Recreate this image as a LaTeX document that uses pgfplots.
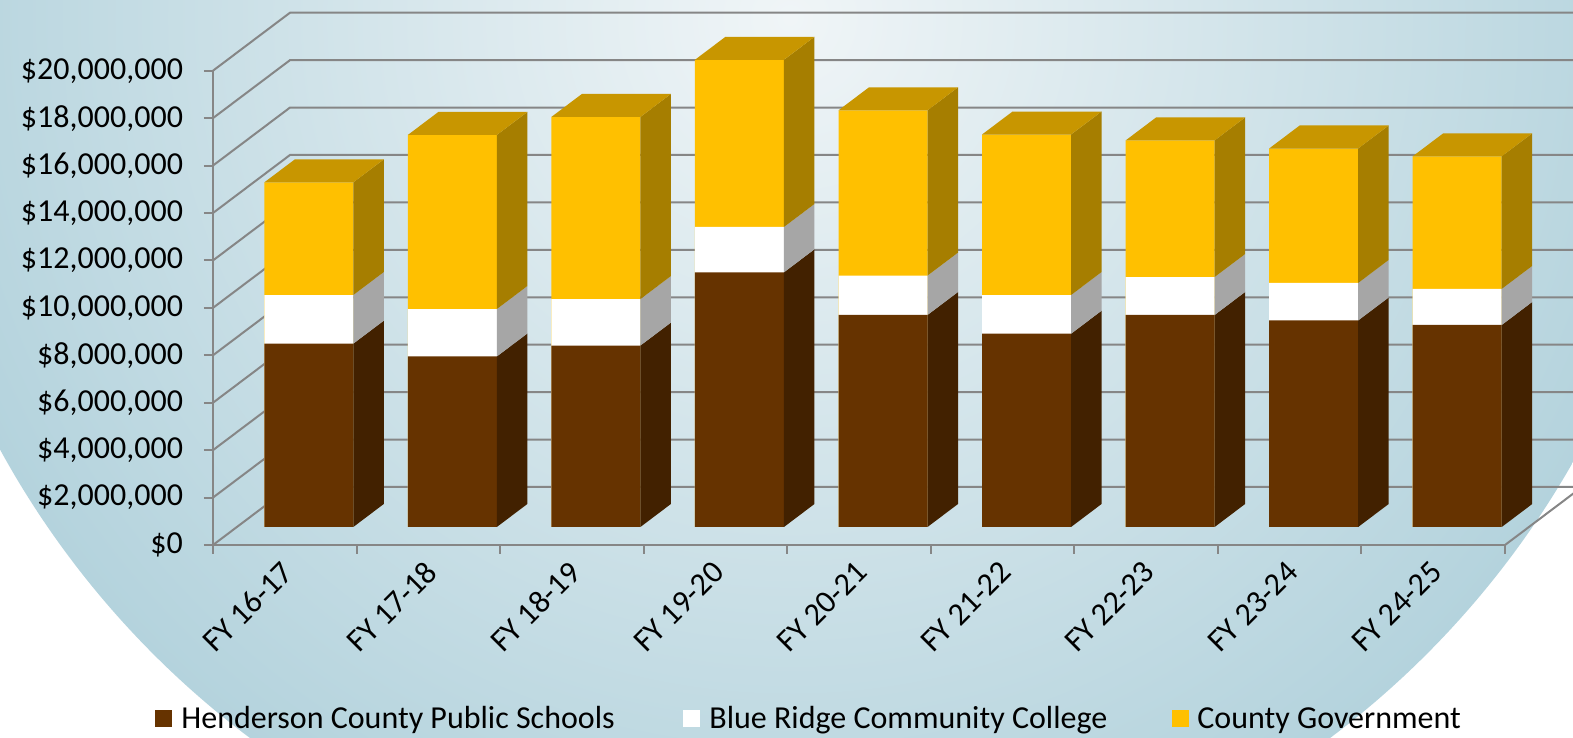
\documentclass[border=0pt]{standalone}
\usepackage{pgfplots}
\pgfplotsset{compat=1.18}
\usepackage{pgfplotstable}
\usepackage{fontspec}
\setmainfont{Carlito}

\definecolor{brF}{RGB}{102,51,0}
\definecolor{brS}{RGB}{66,33,0}
\definecolor{whF}{RGB}{255,255,255}
\definecolor{whS}{RGB}{166,166,166}
\definecolor{yeF}{RGB}{255,192,0}
\definecolor{yeS}{RGB}{166,126,0}
\definecolor{yeT}{RGB}{200,150,0}
\definecolor{gridc}{RGB}{134,134,134}
\definecolor{bgin}{RGB}{240,245,247}
\definecolor{bgout}{RGB}{180,211,221}

\newcommand\fs{\fontsize{16}{19}\selectfont}

% segment heights in millions of dollars
\pgfplotstableread{
x    hcps  brcc  gov
0.5  7.73  2.05  4.75
1.5  7.19  2.00  7.34
2.5  7.65  1.96  7.68
3.5 10.74  1.91  7.05
4.5  8.94  1.66  6.97
5.5  8.15  1.63  6.77
6.5  8.94  1.60  5.76
7.5  8.71  1.58  5.67
8.5  8.52  1.52  5.59
}\budget

% side face: colour, front x, back x, bottom front y, bottom back y, top front y, top back y
\newcommand\face[7]{\addplot[fill=#1, draw=none, mark=none, forget plot] coordinates {(#2,#4) (#3,#5) (#3,#7) (#2,#6)};}
% top face: front-left x, front-right x, back-right x, back-left x, front y, back y
\newcommand\topface[6]{\addplot[fill=yeT, draw=none, mark=none, forget plot] coordinates {(#1,#5) (#2,#5) (#3,#6) (#4,#6)};}

\pgfplotsset{
  front face/.style={
    ybar, bar width=44.5pt, bar shift=12pt, fill=#1, draw=none,
  },
}

\begin{document}
\begin{tikzpicture}
\useasboundingbox (0pt,0pt) rectangle (786.5pt,369pt);
\clip (0pt,0pt) rectangle (786.5pt,369pt);
\shade[inner color=bgin, outer color=bgout] (395pt,360pt) circle (450pt);
\begin{axis}[
  at={(106.5pt,96.5pt)}, anchor=south west,
  scale only axis, width=646pt, height=237.15pt,
  xmin=0, xmax=9, ymin=-0.759, ymax=19.241,
  clip=false,
  axis x line*=bottom, axis y line*=left,
  axis line style={gridc, line width=1pt},
  tick style={gridc, line width=1pt},
  tick align=outside, major tick length=4.5pt,
  xtick={0,1,...,9}, x tick label as interval,
  xticklabels={FY 16-17,FY 17-18,FY 18-19,FY 19-20,FY 20-21,FY 21-22,FY 22-23,FY 23-24,FY 24-25},
  ytick={-0.759,1.241,3.241,5.241,7.241,9.241,11.241,13.241,15.241,17.241,19.241},
  yticklabels={{\$0},{\$2,000,000},{\$4,000,000},{\$6,000,000},{\$8,000,000},{\$10,000,000},{\$12,000,000},{\$14,000,000},{\$16,000,000},{\$18,000,000},{\$20,000,000}},
  tick label style={font=\fs, text=black},
  xticklabel style={xshift=4pt, yshift=-4pt, rotate=45, anchor=east},
  yticklabel style={xshift=-7pt, anchor=east},
]
\draw[gridc, line width=1pt] (axis cs:0,-0.759) -- (axis cs:0.5364,1.6867) -- (axis cs:9.7,1.6867);
\draw[gridc, line width=1pt] (axis cs:0,1.241) -- (axis cs:0.5364,3.6867) -- (axis cs:9.7,3.6867);
\draw[gridc, line width=1pt] (axis cs:0,3.241) -- (axis cs:0.5364,5.6867) -- (axis cs:9.7,5.6867);
\draw[gridc, line width=1pt] (axis cs:0,5.241) -- (axis cs:0.5364,7.6867) -- (axis cs:9.7,7.6867);
\draw[gridc, line width=1pt] (axis cs:0,7.241) -- (axis cs:0.5364,9.6867) -- (axis cs:9.7,9.6867);
\draw[gridc, line width=1pt] (axis cs:0,9.241) -- (axis cs:0.5364,11.6867) -- (axis cs:9.7,11.6867);
\draw[gridc, line width=1pt] (axis cs:0,11.241) -- (axis cs:0.5364,13.6867) -- (axis cs:9.7,13.6867);
\draw[gridc, line width=1pt] (axis cs:0,13.241) -- (axis cs:0.5364,15.6867) -- (axis cs:9.7,15.6867);
\draw[gridc, line width=1pt] (axis cs:0,15.241) -- (axis cs:0.5364,17.6867) -- (axis cs:9.7,17.6867);
\draw[gridc, line width=1pt] (axis cs:0,17.241) -- (axis cs:0.5364,19.6867) -- (axis cs:9.7,19.6867);
\draw[gridc, line width=1pt] (axis cs:0,19.241) -- (axis cs:0.5364,21.6867) -- (axis cs:9.7,21.6867);
\draw[gridc, line width=1pt] (axis cs:9,-0.759) -- (axis cs:9.5364,1.6867);

% front faces (stacked totals drawn back to front)
\addplot[front face=yeF] table[x=x, y expr=\thisrow{hcps}+\thisrow{brcc}+\thisrow{gov}] {\budget};
\addplot[front face=whF] table[x=x, y expr=\thisrow{hcps}+\thisrow{brcc}] {\budget};
\addplot[front face=brF] table[x=x, y=hcps] {\budget};

% side and top faces
\face{brS}{0.9772}{1.1896}{0}{0.97}{7.73}{8.70}
\face{whS}{0.9772}{1.1896}{7.73}{8.70}{9.78}{10.75}
\face{yeS}{0.9772}{1.1896}{9.78}{10.75}{14.53}{15.50}
\topface{0.3572}{0.9772}{1.1896}{0.5697}{14.53}{15.50}

\face{brS}{1.9772}{2.1896}{0}{0.97}{7.19}{8.16}
\face{whS}{1.9772}{2.1896}{7.19}{8.16}{9.19}{10.16}
\face{yeS}{1.9772}{2.1896}{9.19}{10.16}{16.53}{17.50}
\topface{1.3572}{1.9772}{2.1896}{1.5697}{16.53}{17.50}

\face{brS}{2.9772}{3.1896}{0}{0.97}{7.65}{8.62}
\face{whS}{2.9772}{3.1896}{7.65}{8.62}{9.61}{10.58}
\face{yeS}{2.9772}{3.1896}{9.61}{10.58}{17.29}{18.26}
\topface{2.3572}{2.9772}{3.1896}{2.5697}{17.29}{18.26}

\face{brS}{3.9772}{4.1896}{0}{0.97}{10.74}{11.71}
\face{whS}{3.9772}{4.1896}{10.74}{11.71}{12.65}{13.62}
\face{yeS}{3.9772}{4.1896}{12.65}{13.62}{19.70}{20.67}
\topface{3.3572}{3.9772}{4.1896}{3.5697}{19.70}{20.67}

\face{brS}{4.9772}{5.1896}{0}{0.97}{8.94}{9.91}
\face{whS}{4.9772}{5.1896}{8.94}{9.91}{10.60}{11.57}
\face{yeS}{4.9772}{5.1896}{10.60}{11.57}{17.57}{18.54}
\topface{4.3572}{4.9772}{5.1896}{4.5697}{17.57}{18.54}

\face{brS}{5.9772}{6.1896}{0}{0.97}{8.15}{9.12}
\face{whS}{5.9772}{6.1896}{8.15}{9.12}{9.78}{10.75}
\face{yeS}{5.9772}{6.1896}{9.78}{10.75}{16.55}{17.52}
\topface{5.3572}{5.9772}{6.1896}{5.5697}{16.55}{17.52}

\face{brS}{6.9772}{7.1896}{0}{0.97}{8.94}{9.91}
\face{whS}{6.9772}{7.1896}{8.94}{9.91}{10.54}{11.51}
\face{yeS}{6.9772}{7.1896}{10.54}{11.51}{16.30}{17.27}
\topface{6.3572}{6.9772}{7.1896}{6.5697}{16.30}{17.27}

\face{brS}{7.9772}{8.1896}{0}{0.97}{8.71}{9.68}
\face{whS}{7.9772}{8.1896}{8.71}{9.68}{10.29}{11.26}
\face{yeS}{7.9772}{8.1896}{10.29}{11.26}{15.96}{16.93}
\topface{7.3572}{7.9772}{8.1896}{7.5697}{15.96}{16.93}

\face{brS}{8.9772}{9.1896}{0}{0.97}{8.52}{9.49}
\face{whS}{8.9772}{9.1896}{8.52}{9.49}{10.04}{11.01}
\face{yeS}{8.9772}{9.1896}{10.04}{11.01}{15.63}{16.60}
\topface{8.3572}{8.9772}{9.1896}{8.5697}{15.63}{16.60}
\end{axis}

% legend
\fill[brF] (77.5pt,5.5pt) rectangle (86pt,14pt);
\node[anchor=base west, inner sep=0pt, font=\fs] at (90.5pt,4.5pt) {Henderson County Public Schools};
\fill[whF] (341.5pt,5.5pt) rectangle (350pt,14pt);
\node[anchor=base west, inner sep=0pt, font=\fs] at (354.5pt,4.5pt) {Blue Ridge Community College};
\fill[yeF] (586pt,5.5pt) rectangle (594.5pt,14pt);
\node[anchor=base west, inner sep=0pt, font=\fs] at (598.5pt,4.5pt) {County Government};
\end{tikzpicture}
\end{document}
